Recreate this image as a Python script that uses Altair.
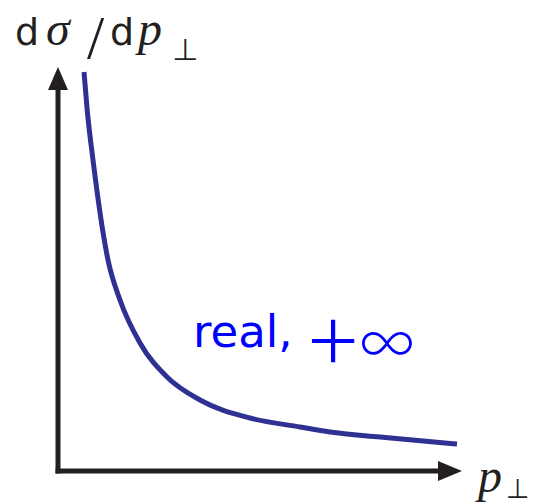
import altair as alt
import pandas as pd

# Falling transverse-momentum spectrum (arbitrary units)
p_perp = [0.65, 0.73, 0.875, 1.25, 1.55, 2.05, 2.725, 3.55, 4.8, 6.05, 6.8, 8.05, 9.975]
dsigma = [9.975, 9.025, 7.775, 5.275, 4.275, 3.2, 2.35, 1.775, 1.325, 1.1, 0.975, 0.85, 0.675]

# Frame of the sketch in the same units
x_domain = [-1.45, 12.1]
y_domain = [-0.825, 11.775]
axis_x_end = 9.55
axis_y_end = 9.575
arrow_x_tip = 9.8
arrow_y_tip = 9.8125

INK = "#231f20"
CURVE = "#2e3192"
NOTE = "#0000ff"

xs = alt.Scale(domain=x_domain, nice=False, zero=False)
ys = alt.Scale(domain=y_domain, nice=False, zero=False)


def X(field="x"):
    return alt.X(f"{field}:Q", scale=xs, axis=None)


def Y(field="y"):
    return alt.Y(f"{field}:Q", scale=ys, axis=None)


curve = alt.Chart(pd.DataFrame({"x": p_perp, "y": dsigma})).mark_line(
    color=CURVE, strokeWidth=5, interpolate="monotone", strokeCap="butt"
).encode(x=X(), y=Y(), order="x:Q")

y_axis = alt.Chart(pd.DataFrame({"x": [0.0], "y": [-0.0625], "y2": [axis_y_end]})).mark_rule(
    color=INK, strokeWidth=5
).encode(x=X(), y=Y(), y2="y2:Q")

x_axis = alt.Chart(pd.DataFrame({"x": [-0.0625], "x2": [axis_x_end], "y": [0.0]})).mark_rule(
    color=INK, strokeWidth=5
).encode(x=X(), x2="x2:Q", y=Y())

head_up = alt.Chart(pd.DataFrame({"x": [0.0], "y": [arrow_y_tip]})).mark_point(
    shape="M-1,1.15L1,1.15L0,-1.15Z", size=400, filled=True, opacity=1, color=INK, strokeWidth=0
).encode(x=X(), y=Y())

head_right = alt.Chart(pd.DataFrame({"x": [arrow_x_tip], "y": [0.0]})).mark_point(
    shape="M-1.2,-1L-1.2,1L1.2,0Z", size=400, filled=True, opacity=1, color=INK, strokeWidth=0
).encode(x=X(), y=Y())


def label(text, x, y, font, size, style="normal", color=INK, weight="normal", align="left"):
    return alt.Chart(pd.DataFrame({"x": [x], "y": [y], "t": [text]})).mark_text(
        align=align, baseline="alphabetic", font=font, fontSize=size,
        fontStyle=style, fontWeight=weight, color=color
    ).encode(x=X(), y=Y(), text="t:N")


# d sigma / d p_perp
y_title = [
    label("d", -1.075, 10.65, "DejaVu Sans", 38),
    label("σ", -0.3, 10.65, "Liberation Serif", 48, "italic"),
    label("/", 0.725, 10.325, "Liberation Serif", 62),
    label("d", 1.3, 10.65, "DejaVu Sans", 38),
    label("p", 2.0, 10.65, "Liberation Serif", 48, "italic"),
    label("⊥", 2.85, 10.275, "DejaVu Sans", 30),
]

x_title = [
    label("p", 10.5, -0.525, "Liberation Serif", 48, "italic"),
    label("⊥", 11.2, -0.675, "DejaVu Sans", 27),
]

note = [
    label("real,", 3.375, 3.1, "DejaVu Sans", 45, color=NOTE),
    label("+", 6.875, 2.55, "Inter", 98, color=NOTE, weight=200, align="center"),
    label("∞", 8.225, 2.7, "Inter", 64, color=NOTE, weight=200, align="center"),
]

chart = alt.layer(
    curve, y_axis, x_axis, head_up, head_right, *y_title, *x_title, *note
).properties(
    width=542, height=504, padding=0, autosize="none", background="white"
).configure_view(stroke=None)

chart.save("out.html", embed_options={"renderer": "svg", "actions": False})
